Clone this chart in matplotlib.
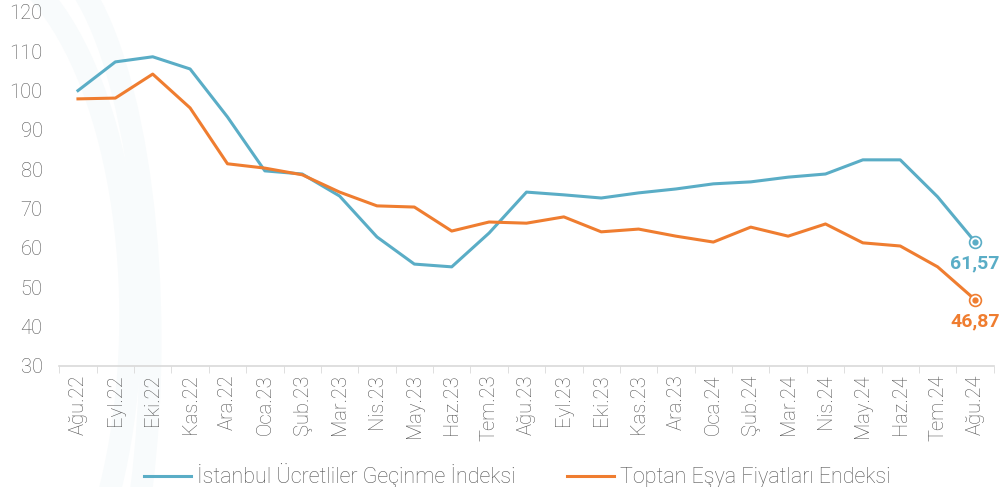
import numpy as np
import matplotlib.pyplot as plt
from matplotlib.patches import Ellipse

# DATA
months = ['Ağu.22', 'Eyl.22', 'Eki.22', 'Kas.22', 'Ara.22', 'Oca.23', 'Şub.23', 'Mar.23',
          'Nis.23', 'May.23', 'Haz.23', 'Tem.23', 'Ağu.23', 'Eyl.23', 'Eki.23', 'Kas.23',
          'Ara.23', 'Oca.24', 'Şub.24', 'Mar.24', 'Nis.24', 'May.24', 'Haz.24', 'Tem.24', 'Ağu.24']
istanbul = [100.0, 107.3, 108.6, 105.5, 93.3, 79.6, 78.8, 73.2, 62.8, 55.9, 55.2, 63.8, 74.2,
            73.5, 72.7, 74.0, 75.0, 76.3, 76.8, 78.0, 78.8, 82.4, 82.4, 73.0, 61.57]
toptan = [97.9, 98.1, 104.2, 95.6, 81.4, 80.3, 78.6, 74.2, 70.7, 70.4, 64.3, 66.6, 66.3,
          67.9, 64.1, 64.8, 63.0, 61.5, 65.3, 63.0, 66.1, 61.3, 60.5, 55.2, 46.87]
names = ['İstanbul Ücretliler Geçinme İndeksi', 'Toptan Eşya Fiyatları Endeksi']
yticks = [30, 40, 50, 60, 70, 80, 90, 100, 110, 120]

BLUE = '#5aadc6'
ORANGE = '#ef7d30'
GRAY = '#555555'

plt.rcParams['font.family'] = ['Roboto', 'Liberation Sans', 'DejaVu Sans']
plt.rcParams['font.weight'] = 'light'

fig = plt.figure(figsize=(10.03, 4.87), dpi=100)

# faint watermark arcs behind everything
for cx, cy, w, h in [(-0.04, 0.35, 0.34, 1.5), (0.03, 0.30, 0.24, 1.6)]:
    fig.patches.append(Ellipse((cx, cy), w, h, transform=fig.transFigure, fill=False,
                               edgecolor='#f8fbfc', linewidth=16, zorder=-5))

ax = fig.add_axes([0.0591, 0.2485, 0.9316, 0.727])
ax.patch.set_alpha(0)
x = np.arange(len(months))

ax.plot(x, istanbul, color=BLUE, lw=2.2, label=names[0])
ax.plot(x, toptan, color=ORANGE, lw=2.2, label=names[1])

# end markers + labels
for vals, col in [(istanbul, BLUE), (toptan, ORANGE)]:
    ax.plot(x[-1], vals[-1], 'o', ms=8.5, mfc='white', mec=col, mew=1.2)
    ax.plot(x[-1], vals[-1], 'o', ms=3.5, color=col)
    ax.annotate(f'{vals[-1]:.2f}'.replace('.', ','), (x[-1], vals[-1]), xytext=(0, -9),
                textcoords='offset points', ha='center', va='top', color=col,
                fontsize=14, fontweight='bold')

ax.set_xlim(-0.5, len(months) - 0.5)
ax.set_ylim(30, 120)
ax.set_yticks(yticks)
ax.tick_params(axis='y', length=0, labelsize=14.5, labelcolor=GRAY, pad=12)
ax.set_xticks(x)
ax.set_xticklabels(months, rotation=90, fontsize=14.5, color=GRAY)
ax.set_xticks(np.arange(len(months) + 1) - 0.5, minor=True)
ax.tick_params(axis='x', which='major', length=0, pad=6)
ax.tick_params(axis='x', which='minor', length=5, color='#d9d9d9')
for s in ['top', 'right', 'left']:
    ax.spines[s].set_visible(False)
ax.spines['bottom'].set_color('#d9d9d9')
ax.spines['bottom'].set_linewidth(1.2)

ax.legend(loc='center', bbox_to_anchor=(0.49, -0.31), ncol=2, frameon=False,
          fontsize=15.5, labelcolor=GRAY, handlelength=2.2, columnspacing=2.4,
          handletextpad=0.25)

fig.savefig('out.png', dpi=100)
